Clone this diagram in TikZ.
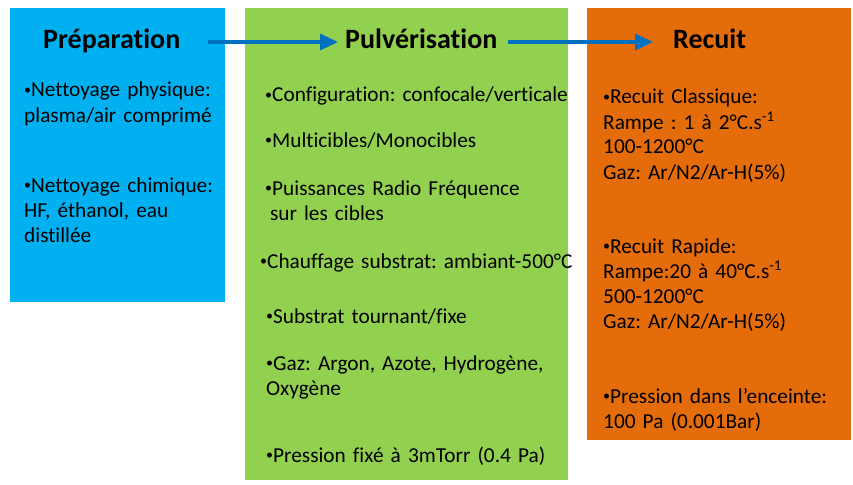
\documentclass[tikz,border=0pt]{standalone}
\usepackage{fontspec}
\setmainfont{Carlito}[Ligatures=NoCommon]
\usetikzlibrary{arrows.meta}
\definecolor{prepblue}{HTML}{00B0F0}
\definecolor{pulvgreen}{HTML}{92D050}
\definecolor{recuitorange}{HTML}{E46C0A}
\definecolor{flowblue}{HTML}{0070C0}
\newcommand{\bul}{{\fontsize{14}{14}\selectfont\raisebox{2.6pt}{•}}}
\begin{document}
\frenchspacing
\begin{tikzpicture}[x=1pt,y=-1pt,
    title/.style={font=\bfseries\fontsize{28}{30}\selectfont, inner sep=0pt,
      text height=20pt, text depth=6pt, anchor=base west},
    item/.style={font=\fontsize{21.3}{25}\selectfont, inner sep=0pt,
      anchor=base west, text width=340pt, align=left},
    flow/.style={draw=flowblue, line width=3.3pt, -{Triangle[length=18pt,width=16pt]}}]
  \useasboundingbox (0,0) rectangle (853,484);
  % boxes
  \fill[prepblue] (10,8) rectangle (225,302);
  \fill[pulvgreen] (245,8) rectangle (568,480);
  \fill[recuitorange] (587,8) rectangle (851,440);
  % titles
  \node[title] (prep) at (43,49) {Préparation};
  \node[title] (pulv) at (345,49) {Pulvérisation};
  \node[title] (recuit) at (673,49) {Recuit};
  \draw[flow, shorten <=28pt, shorten >=7pt] (prep.east) -- (pulv.west);
  \draw[flow, shorten <=10pt, shorten >=20pt] (pulv.east) -- (recuit.west);
  % preparation
  \node[item] (prep1) at (24,97) {\bul Nettoyage physique:\\plasma/air comprimé};
  \node[item] (prep2) at (24,192) {\bul Nettoyage chimique:\\HF, éthanol, eau\\distillée};
  % pulverisation
  \node[item] (pulv1) at (265,102) {\bul Configuration: confocale/verticale};
  \node[item] (pulv2) at (265,147) {\bul Multicibles/Monocibles};
  \node[item] (pulv3) at (265,195) {\bul Puissances Radio Fréquence\\\hspace*{4.8pt}sur les cibles};
  \node[item] (pulv4) at (260,268) {\bul Chauffage substrat: ambiant-500°C};
  \node[item] (pulv5) at (266,323) {\bul Substrat tournant/fixe};
  \node[item] (pulv6) at (266,370) {\bul Gaz: Argon, Azote, Hydrogène,\\Oxygène};
  \node[item] (pulv7) at (266,462) {\bul Pression fixé à 3mTorr (0.4 Pa)};
  % recuit
  \node[item] (recuit1) at (603,104) {\bul Recuit Classique:\\Rampe : 1 à 2°C.s\textsuperscript{-1}\\100-1200°C\\Gaz: Ar/N2/Ar-H(5\%)};
  \node[item] (recuit2) at (603,253) {\bul Recuit Rapide:\\Rampe:20 à 40°C.s\textsuperscript{-1}\\500-1200°C\\Gaz: Ar/N2/Ar-H(5\%)};
  \node[item] (recuit3) at (603,403) {\bul Pression dans l’enceinte:\\100 Pa (0.001Bar)};
\end{tikzpicture}
\end{document}
